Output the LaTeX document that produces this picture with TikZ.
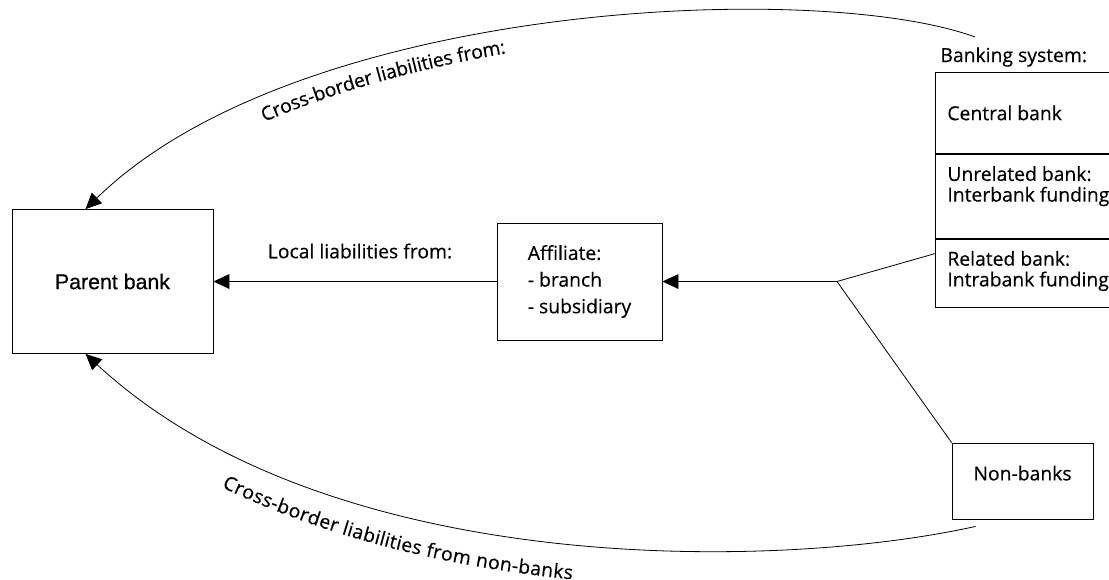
\documentclass[tikz,border=0pt]{standalone}
\usepackage{fontspec}
\setmainfont[FakeBold=0.4]{Open Sans}
\newfontfamily\arialfont[FakeBold=0.6]{Liberation Sans}
\usetikzlibrary{arrows.meta}
\usetikzlibrary{positioning}
\usetikzlibrary{decorations.text}
\newcommand\labelfont{\fontsize{14.5}{20}\selectfont}

\begin{document}
\begin{tikzpicture}[
% all coordinates are in pixels of the sketch (y grows downwards)
x=0.75pt,y=-0.75pt,
>={Triangle[length=12pt,width=11pt]},
line width=0.6pt,
every node/.style={font=\labelfont},
box/.style={draw,inner sep=0pt},
section/.style={draw,inner sep=0pt,minimum width=146.25pt,anchor=north west},
sectext/.style={anchor=north west,align=left,inner sep=9pt,font=\fontsize{14.5}{15.5}\selectfont}]

\useasboundingbox (0,0) rectangle (1109,579);

% parent bank and its local affiliate
\node[box,minimum width=150.75pt,minimum height=108pt,
  font=\arialfont\fontsize{16}{19}\selectfont] (parent) at (112.5,281.5) {Parent bank};
\node[box,minimum width=123.75pt,minimum height=87.75pt,align=left] (aff) at (579.5,281.5)
  {Affiliate:\\- branch\\- subsidiary};

% banking system, cut off by the right margin
\node[section,minimum height=60.75pt] (central) at (935,72) {};
\node[section,minimum height=63pt] (unrel) at (central.south west) {};
\node[section,minimum height=51pt] (rel) at (unrel.south west) {};
\node[anchor=base west,inner sep=0pt] (bstitle) at ([xshift=3.75pt,yshift=7.5pt]central.north west) {Banking system:};
\node[sectext,anchor=west] (centraltext) at (central.west) {Central bank};
\node[sectext] (unreltext) at (unrel.north west) {Unrelated bank:\\Interbank funding};
\node[sectext] (reltext) at (rel.north west) {Related bank:\\Intrabank funding};

\node[box,minimum width=105.75pt,minimum height=57pt,text depth=12pt] (nonbank) at (1022.5,481) {Non-banks};

\coordinate (junc) at (837,281.5);
\coordinate (bsfrom) at (975,37);
\coordinate (nbfrom) at ([xshift=18pt,yshift=-5.25pt]nonbank.south west);
\coordinate (ptop) at ([xshift=-20.25pt]parent.north);
\coordinate (pbot) at ([xshift=-20.25pt]parent.south);

% local funding
\draw (nonbank.north west) -- (junc) -- ([yshift=-11.25pt]rel.north west);
\draw[->] (junc) -- (aff.east);
\draw[->] (aff.west) -- (parent.east);
\node (local) at (360,251) {Local liabilities from:};

% cross-border funding
\draw[->] (bsfrom) .. controls (820,-20) and (300,0) .. (ptop);
\draw[->] (nbfrom) .. controls (780,570) and (330,580) .. (pbot);
\path[decorate,decoration={text along path,raise=-17pt,text align={left indent=152pt},
  text={|\labelfont|Cross-border liabilities from:}}]
  (ptop) .. controls (300,0) and (820,-20) .. (bsfrom);
\path[decorate,decoration={text along path,raise=-26.5pt,text align={left indent=137pt},
  text={|\labelfont|Cross-border liabilities from non-banks}}]
  (pbot) .. controls (330,580) and (780,570) .. (nbfrom);
\end{tikzpicture}
\end{document}
